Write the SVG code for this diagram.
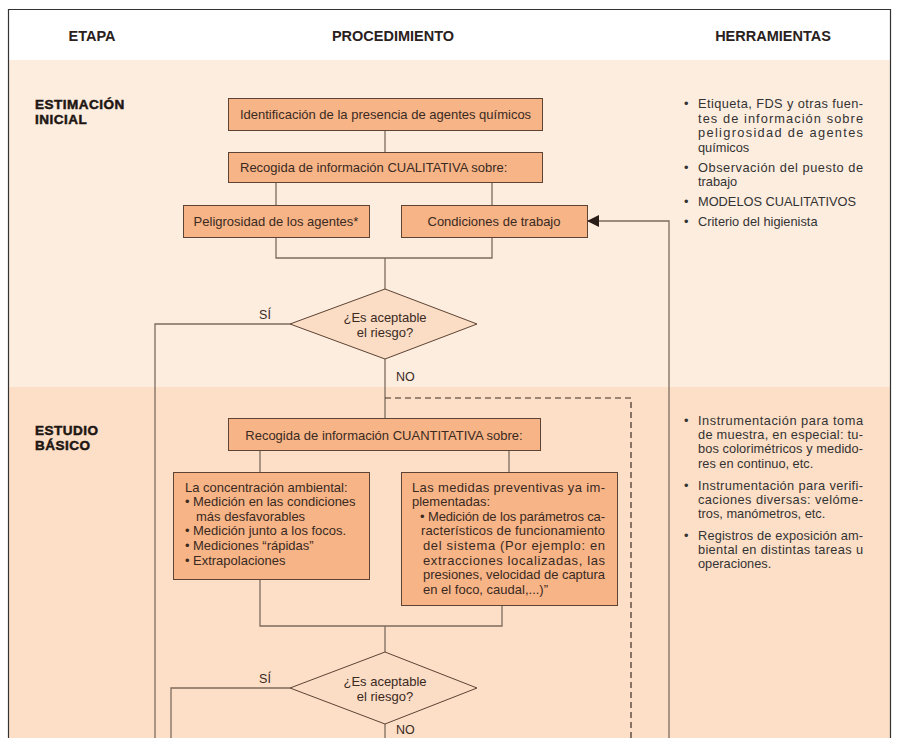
<svg xmlns="http://www.w3.org/2000/svg" width="898" height="738" viewBox="0 0 898 738">
<style>
text{font-family:"Liberation Sans",Arial,sans-serif;fill:#3a2a1f}
.hd{font-size:14.5px;font-weight:bold;fill:#2a211c}
.st{font-size:13.5px;font-weight:bold;fill:#1e1612;stroke:#1e1612;stroke-width:0.5;letter-spacing:0.5px}
.bx{fill:#f7b487;stroke:#5c4333;stroke-width:1}
.dm{fill:#fbdcc4;stroke:#5c4333;stroke-width:1}
.t{font-size:13px}
.tc{font-size:13px;text-anchor:middle}
.r{font-size:12.8px;fill:#333}
.c{fill:none;stroke:#7d6b5e;stroke-width:1.3}
.d{fill:none;stroke:#3d2c22;stroke-width:1.2;stroke-dasharray:6 4}
</style>
<defs>
<marker id="ah" viewBox="0 0 12 12" refX="12" refY="6" markerWidth="12" markerHeight="12" markerUnits="userSpaceOnUse" orient="auto">
<path d="M0,0 L12,6 L0,12 Z" fill="#2a1e18"/>
</marker>
</defs>
<rect x="0" y="0" width="898" height="738" fill="#ffffff"/>
<rect x="9" y="60" width="881" height="327" fill="#fdeddf"/>
<rect x="9" y="387" width="881" height="351" fill="#fddfc7"/>
<path d="M8.5,738 V9.5 H890.5 V738" fill="none" stroke="#333" stroke-width="1.2"/>

<g id="headers">
<text class="hd" x="92" y="41" text-anchor="middle">ETAPA</text>
<text class="hd" x="393" y="41" text-anchor="middle">PROCEDIMIENTO</text>
<text class="hd" x="773" y="41" text-anchor="middle">HERRAMIENTAS</text>
</g>
<g id="stage1">
<text class="st" x="35" y="109">ESTIMACIÓN</text>
<text class="st" x="35" y="124">INICIAL</text>
</g>
<g id="stage2">
<text class="st" x="35" y="435">ESTUDIO</text>
<text class="st" x="35" y="450">BÁSICO</text>
</g>

<g id="connectors">
<path class="c" d="M385,130 V152"/>
<path class="c" d="M276,182 V205 M492,182 V205"/>
<path class="c" d="M276,237 V258 H492 V237 M385,258 V289"/>
<path class="c" d="M290,324 H155 V738"/>
<path class="c" d="M385,359 V418"/>
<path class="c" d="M669,738 V221 H587" marker-end="url(#ah)"/>
<path class="d" d="M385,398 H631 V738"/>
<path class="c" d="M260,450 V472 M509,450 V472"/>
<path class="c" d="M260,579 V626 H502 V605 M385,626 V652"/>
<path class="c" d="M290,688 H171 V738"/>
<path class="c" d="M385,724 V738"/>
</g>

<g id="n1">
<rect class="bx" x="228.5" y="98.5" width="314" height="32"/>
<text class="tc" x="385.5" y="119">Identificación de la presencia de agentes químicos</text>
</g>
<g id="n2">
<rect class="bx" x="228.5" y="152.5" width="314" height="30"/>
<text class="t" x="240" y="172">Recogida de información CUALITATIVA sobre:</text>
</g>
<g id="n3">
<rect class="bx" x="183.5" y="205.5" width="186" height="32"/>
<text class="tc" x="276" y="226">Peligrosidad de los agentes*</text>
</g>
<g id="n4">
<rect class="bx" x="401.5" y="205.5" width="186" height="32"/>
<text class="tc" x="494" y="226">Condiciones de trabajo</text>
</g>
<g id="d1">
<polygon class="dm" points="385,289 477,324 385,359 290,324"/>
<text class="tc" x="385" y="322">¿Es aceptable</text>
<text class="tc" x="385" y="337">el riesgo?</text>
</g>
<g id="labels1">
<text class="tc" x="265" y="319" style="font-size:12.5px">SÍ</text>
<text class="t" x="396" y="381" style="font-size:12.5px">NO</text>
</g>
<g id="n5">
<rect class="bx" x="228.5" y="418.5" width="312" height="32"/>
<text class="tc" x="384" y="440">Recogida de información CUANTITATIVA sobre:</text>
</g>
<g id="n6">
<rect class="bx" x="173.5" y="472.5" width="196" height="107"/>
<text class="t" x="185" y="492">La concentración ambiental:</text>
<text class="t" x="185" y="506">•</text><text class="t" x="193" y="506">Medición en las condiciones</text>
<text class="t" x="196" y="521">más desfavorables</text>
<text class="t" x="185" y="535">•</text><text class="t" x="193" y="535">Medición junto a los focos.</text>
<text class="t" x="185" y="550">•</text><text class="t" x="193" y="550">Mediciones “rápidas”</text>
<text class="t" x="185" y="565">•</text><text class="t" x="193" y="565">Extrapolaciones</text>
</g>
<g id="n7">
<rect class="bx" x="401.5" y="472.5" width="216" height="133"/>
<text class="t" x="412" y="492" textLength="193" lengthAdjust="spacing">Las medidas preventivas ya im-</text>
<text class="t" x="412" y="506">plementadas:</text>
<text class="t" x="420" y="521">•</text><text class="t" x="428" y="521" textLength="177" lengthAdjust="spacing">Medición de los parámetros ca-</text>
<text class="t" x="421" y="535" textLength="184" lengthAdjust="spacing">racterísticos de funcionamiento</text>
<text class="t" x="423" y="550" textLength="182" lengthAdjust="spacing">del sistema (Por ejemplo: en</text>
<text class="t" x="423" y="565" textLength="182" lengthAdjust="spacing">extracciones localizadas, las</text>
<text class="t" x="423" y="579" textLength="182" lengthAdjust="spacing">presiones, velocidad de captura</text>
<text class="t" x="423" y="594">en el foco, caudal,...)”</text>
</g>
<g id="d2">
<polygon class="dm" points="385,652 477,688 385,724 290,688"/>
<text class="tc" x="385" y="686">¿Es aceptable</text>
<text class="tc" x="385" y="701">el riesgo?</text>
</g>
<g id="labels2">
<text class="tc" x="265" y="683" style="font-size:12.5px">SÍ</text>
<text class="t" x="396" y="734" style="font-size:12.5px">NO</text>
</g>

<g id="tools1">
<text class="r" x="684" y="108">•</text>
<text class="r" x="698" y="108" textLength="165" lengthAdjust="spacing">Etiqueta, FDS y otras fuen-</text>
<text class="r" x="698" y="123" textLength="165" lengthAdjust="spacing">tes de información sobre</text>
<text class="r" x="698" y="137" textLength="165" lengthAdjust="spacing">peligrosidad de agentes</text>
<text class="r" x="698" y="152">químicos</text>
<text class="r" x="684" y="172">•</text>
<text class="r" x="698" y="172" textLength="165" lengthAdjust="spacing">Observación del puesto de</text>
<text class="r" x="698" y="186">trabajo</text>
<text class="r" x="684" y="206">•</text>
<text class="r" x="698" y="206">MODELOS CUALITATIVOS</text>
<text class="r" x="684" y="226">•</text>
<text class="r" x="698" y="226">Criterio del higienista</text>
</g>
<g id="tools2">
<text class="r" x="684" y="425">•</text>
<text class="r" x="698" y="425" textLength="165" lengthAdjust="spacing">Instrumentación para toma</text>
<text class="r" x="698" y="439" textLength="165" lengthAdjust="spacing">de muestra, en especial: tu-</text>
<text class="r" x="698" y="453" textLength="165" lengthAdjust="spacing">bos colorimétricos y medido-</text>
<text class="r" x="698" y="468">res en continuo, etc.</text>
<text class="r" x="684" y="490">•</text>
<text class="r" x="698" y="490" textLength="165" lengthAdjust="spacing">Instrumentación para verifi-</text>
<text class="r" x="698" y="504" textLength="165" lengthAdjust="spacing">caciones diversas: velóme-</text>
<text class="r" x="698" y="518">tros, manómetros, etc.</text>
<text class="r" x="684" y="540">•</text>
<text class="r" x="698" y="540" textLength="165" lengthAdjust="spacing">Registros de exposición am-</text>
<text class="r" x="698" y="554" textLength="165" lengthAdjust="spacing">biental en distintas tareas u</text>
<text class="r" x="698" y="568">operaciones.</text>
</g>
</svg>
